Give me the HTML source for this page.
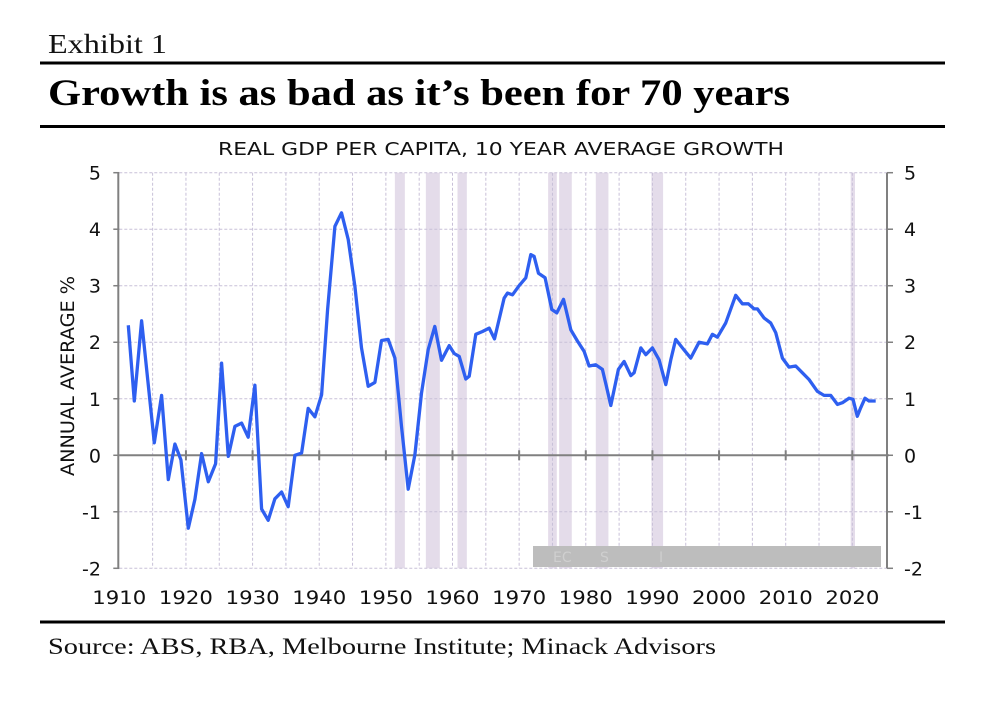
<!DOCTYPE html>
<html><head><meta charset="utf-8">
<style>
html,body{margin:0;padding:0;background:#fff;}
svg{display:block;}
.serif{font-family:"Liberation Serif",serif;}
.sans{font-family:"DejaVu Sans","Liberation Sans",sans-serif;}
</style></head>
<body>
<svg id="chart" width="985" height="702" viewBox="0 0 985 702">
  <text class="serif" x="48" y="53" font-size="27" textLength="119" lengthAdjust="spacingAndGlyphs" fill="#111">Exhibit 1</text>
  <rect x="40" y="61.5" width="905" height="3" fill="#000"/>
  <text class="serif" x="48" y="105" font-size="37" font-weight="bold" textLength="742" lengthAdjust="spacingAndGlyphs" fill="#000">Growth is as bad as it’s been for 70 years</text>
  <rect x="40" y="125" width="905" height="3" fill="#000"/>
  <text class="sans" x="501" y="155" font-size="18" text-anchor="middle" textLength="566" lengthAdjust="spacingAndGlyphs" fill="#111">REAL GDP PER CAPITA, 10 YEAR AVERAGE GROWTH</text>
  <text class="sans" transform="translate(74,376) rotate(-90)" font-size="19" text-anchor="middle" textLength="200" lengthAdjust="spacingAndGlyphs" fill="#111">ANNUAL AVERAGE %</text>
  <g id="plot"></g>
  <rect x="40" y="620.5" width="905" height="3" fill="#000"/>
  <text class="serif" x="48" y="654" font-size="23" textLength="668" lengthAdjust="spacingAndGlyphs" fill="#111">Source: ABS, RBA, Melbourne Institute; Minack Advisors</text>
</svg>
<script>
const years = [1911.35,1912.25,1913.35,1915.25,1916.35,1917.35,1918.35,1919.25,1920.35,1921.35,1922.35,1923.35,1924.45,1925.35,1926.35,1927.35,1928.35,1929.35,1930.35,1931.35,1932.35,1933.35,1934.35,1935.35,1936.35,1937.35,1938.35,1939.35,1940.35,1941.25,1942.35,1943.35,1944.35,1945.35,1946.35,1947.35,1948.35,1949.35,1950.35,1951.35,1952.35,1953.35,1954.35,1955.35,1956.35,1957.35,1958.35,1959.5,1960.25,1961,1962,1962.5,1963.5,1964.5,1965.5,1966.3,1967.75,1968.25,1969,1970,1971,1971.75,1972.25,1972.9,1973.9,1974.9,1975.65,1976.65,1977.75,1978.75,1979.75,1980.5,1981.5,1982.5,1983.1,1983.75,1984.9,1985.75,1986.75,1987.25,1988.25,1989,1990,1991,1992,1992.75,1993.5,1994.5,1995.75,1997,1998.25,1999,1999.75,2001,2002.5,2003.5,2004.4,2005.25,2005.75,2006.75,2007.75,2008.5,2009.5,2010.5,2011.5,2012.5,2013.5,2014.75,2015.75,2016.75,2017.75,2018.5,2019.5,2020.1,2020.75,2021.25,2021.9,2022.5,2023.5];
const growth = [2.30,0.96,2.38,0.22,1.06,-0.43,0.20,-0.08,-1.29,-0.78,0.03,-0.47,-0.15,1.63,-0.02,0.51,0.57,0.32,1.24,-0.95,-1.15,-0.77,-0.65,-0.91,0.0,0.04,0.83,0.68,1.07,2.58,4.05,4.29,3.82,2.99,1.90,1.22,1.29,2.03,2.05,1.72,0.51,-0.60,0.01,1.10,1.87,2.28,1.68,1.94,1.80,1.75,1.35,1.40,2.14,2.19,2.25,2.06,2.78,2.87,2.84,3.0,3.14,3.55,3.52,3.22,3.14,2.58,2.52,2.76,2.22,2.02,1.84,1.58,1.60,1.52,1.22,0.88,1.52,1.66,1.41,1.46,1.90,1.78,1.90,1.69,1.25,1.69,2.05,1.90,1.72,2.0,1.97,2.14,2.09,2.34,2.83,2.68,2.68,2.59,2.59,2.43,2.34,2.17,1.72,1.56,1.58,1.46,1.34,1.13,1.06,1.06,0.90,0.93,1.01,0.99,0.69,0.84,1.01,0.96,0.96];
const recessionStart = [1951.35,1956.0,1960.75,1974.35,1976.0,1981.5,1989.85,2019.75];
const recessionEnd = [1952.85,1958.1,1962.15,1975.65,1977.9,1983.4,1991.6,2020.4];
const yTicks = [-2,-1,0,1,2,3,4,5];
const xTickLabels = [1910,1920,1930,1940,1950,1960,1970,1980,1990,2000,2010,2020];

const NS = 'http://www.w3.org/2000/svg';
const X0 = 119.3, X1 = 887, Y0 = 172.7, Y1 = 568.3;
const xMin = 1910, xMax = 2025.2, yMin = -2, yMax = 5;
const xs = v => X0 + (v - xMin) / (xMax - xMin) * (X1 - X0);
const ys = v => Y1 - (v - yMin) / (yMax - yMin) * (Y1 - Y0);
const plot = document.getElementById('plot');
function mk(tag, attrs, parent) {
  const el = document.createElementNS(NS, tag);
  for (const k in attrs) el.setAttribute(k, attrs[k]);
  (parent || plot).appendChild(el);
  return el;
}

recessionStart.forEach((s, i) => {
  const el = mk('rect', {x: xs(s), y: Y0, width: xs(recessionEnd[i]) - xs(s), height: Y1 - Y0, fill: '#e4dcea'});
  
  
});

for (let yr = 1915; yr <= 2020; yr += 5) {
  const el = mk('line', {x1: xs(yr), x2: xs(yr), y1: Y0, y2: Y1, stroke: '#c8c0d8', 'stroke-width': 1, 'stroke-dasharray': '3,2'});
  
  
}
yTicks.forEach(t => {
  if (t === 0) return;
  const el = mk('line', {x1: X0, x2: X1, y1: ys(t), y2: ys(t), stroke: '#c8c0d8', 'stroke-width': 1, 'stroke-dasharray': '3,2'});
  
  
});

const band = mk('rect', {x: 533, y: 546, width: 348, height: 21, fill: '#bdbdbd'});


[['EC', 553], ['S', 600], ['I', 659]].forEach(a => {
  const t = mk('text', {x: a[1], y: 562, 'font-size': 14, fill: '#cfcfcf', 'font-family': 'DejaVu Sans, sans-serif'});
  t.textContent = a[0];
  
  
});

const la = mk('line', {x1: X0 - 1, x2: X0 - 1, y1: Y0, y2: Y1, stroke: '#808080', 'stroke-width': 2});


const ra = mk('line', {x1: X1, x2: X1, y1: Y0, y2: Y1, stroke: '#808080', 'stroke-width': 2});


const za = mk('line', {x1: X0, x2: X1 + 2, y1: ys(0), y2: ys(0), stroke: '#808080', 'stroke-width': 2});



yTicks.forEach(t => {
  mk('line', {x1: X0 - 6, x2: X0, y1: ys(t), y2: ys(t), stroke: '#808080', 'stroke-width': 1.5});
  mk('line', {x1: X1, x2: X1 + 6, y1: ys(t), y2: ys(t), stroke: '#808080', 'stroke-width': 1.5});
  const l = mk('text', {x: 101, y: ys(t) + 7, 'font-size': 19, 'text-anchor': 'end', fill: '#111', 'font-family': 'DejaVu Sans, sans-serif'});
  l.textContent = t;
  
  
  const r = mk('text', {x: 904, y: ys(t) + 7, 'font-size': 19, 'text-anchor': 'start', fill: '#111', 'font-family': 'DejaVu Sans, sans-serif'});
  r.textContent = t;
  
  
});

xTickLabels.forEach(yr => {
  if (yr > xMin) mk('line', {x1: xs(yr), x2: xs(yr), y1: ys(0) - 5, y2: ys(0) + 5, stroke: '#808080', 'stroke-width': 2});
  const t = mk('text', {x: xs(yr), y: 604, 'font-size': 19, 'text-anchor': 'middle', textLength: 54, lengthAdjust: 'spacingAndGlyphs', fill: '#111', 'font-family': 'DejaVu Sans, sans-serif'});
  t.textContent = yr;
  
  
});

const d = years.map((y, i) => (i ? 'L' : 'M') + xs(y).toFixed(1) + ',' + ys(growth[i]).toFixed(1)).join(' ');
const line = mk('path', {d: d, fill: 'none', stroke: '#2e5ff0', 'stroke-width': 3.3, 'stroke-linejoin': 'round'});


</script>
</body></html>
